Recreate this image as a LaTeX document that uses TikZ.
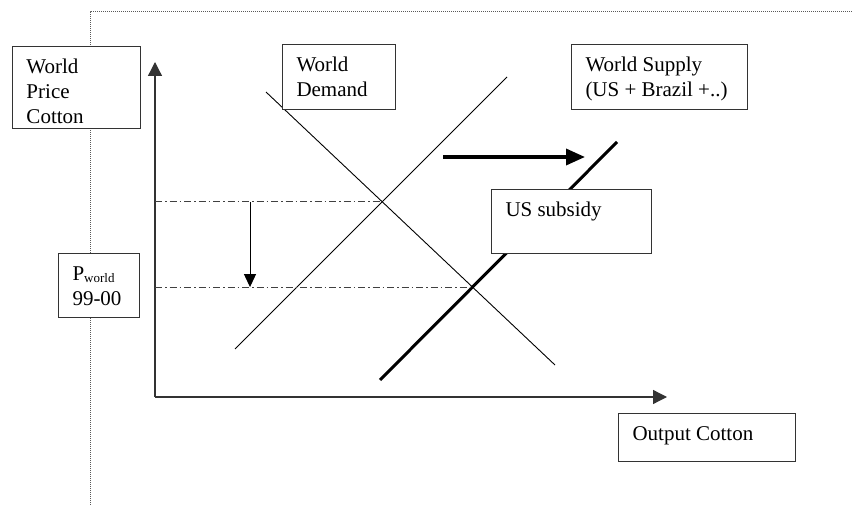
\documentclass[tikz,border=0pt]{standalone}
\usepackage{fontspec}
\setmainfont{Liberation Serif}
\usetikzlibrary{arrows.meta,intersections,calc}
\newcommand{\bxt}[3]{\parbox[c][#2pt][t]{#1pt}{\fontsize{21}{25}\selectfont\raggedright\leftskip=14pt\rule{0pt}{27pt}#3}}
\tikzset{
  lbox/.style={draw=black!80, line width=1pt, fill=white, inner sep=0pt, anchor=north west},
  frame/.style={draw=black!65, line width=1pt, dash pattern=on 1pt off 1pt},
  thin/.style={draw=black, line width=0.9pt},
  thick/.style={draw=black, line width=3pt},
  axis/.style={draw=black!80, line width=1.3pt, -{Triangle[length=14pt,width=14pt]}},
  dashdot/.style={draw=black!75, line width=1.1pt, dash pattern=on 7pt off 3pt on 1.5pt off 3pt},
  shift arrow/.style={draw=black, line width=3.5pt, -{Triangle[length=19pt,width=16pt]}},
  drop arrow/.style={draw=black, line width=1pt, -{Triangle[length=13pt,width=12pt]}}
}
\begin{document}
\begin{tikzpicture}[x=1pt,y=-1pt]
\useasboundingbox (0,0) rectangle (852,505);
% dotted frame
\coordinate (fb) at (90,505);
\coordinate (fc) at (90,12);
\coordinate (fr) at (852,12);
\draw[frame] (fb) -- (fc) -- (fr);
% axes
\coordinate (O) at (155,397);
\coordinate (ytip) at (155,62);
\coordinate (xtip) at (667,397);
\draw[axis] (O) -- (ytip);
\draw[axis] (O) -- (xtip);
% curves
\coordinate (d1) at (266,92);
\coordinate (d2) at (555,365);
\coordinate (s1) at (235,349);
\coordinate (s2) at (507,77);
\coordinate (S1) at (380,380);
\coordinate (S2) at (617,142);
\draw[thin, name path=dem] (d1) -- (d2);
\draw[thin, name path=sup] (s1) -- (s2);
\draw[thick, name path=sup2] (S1) -- (S2);
\path[name intersections={of=dem and sup, by=E1}];
\path[name intersections={of=dem and sup2, by=E2}];
\draw[dashdot] (E1 -| O) -- (E1);
\draw[dashdot] (E2 -| O) -- (E2);
\coordinate (a1) at (E1 -| 250,0);
\coordinate (a2) at (E2 -| 250,0);
\draw[drop arrow] (a1) -- (a2);
% shift arrow
\coordinate (h1) at (443,157);
\coordinate (h2) at (585,157);
\draw[shift arrow] (h1) -- (h2);
% boxes
\node[lbox] (wpc) at (12,46) {\bxt{128}{82}{World\\Price\\Cotton}};
\node[lbox] (wd) at (282,44) {\bxt{113}{65}{World\\Demand}};
\node[lbox] (ws) at (571,44) {\bxt{176}{65}{World Supply\\(US + Brazil +..)}};
\node[lbox] (pw) at (58,253) {\bxt{81}{64}{P\raisebox{-2pt}{\fontsize{13}{13}\selectfont world}\\99-00}};
\node[lbox] (us) at (491,189) {\bxt{160}{64}{US subsidy}};
\node[lbox] (oc) at (618,413) {\bxt{177}{48}{Output Cotton}};
\end{tikzpicture}
\end{document}
